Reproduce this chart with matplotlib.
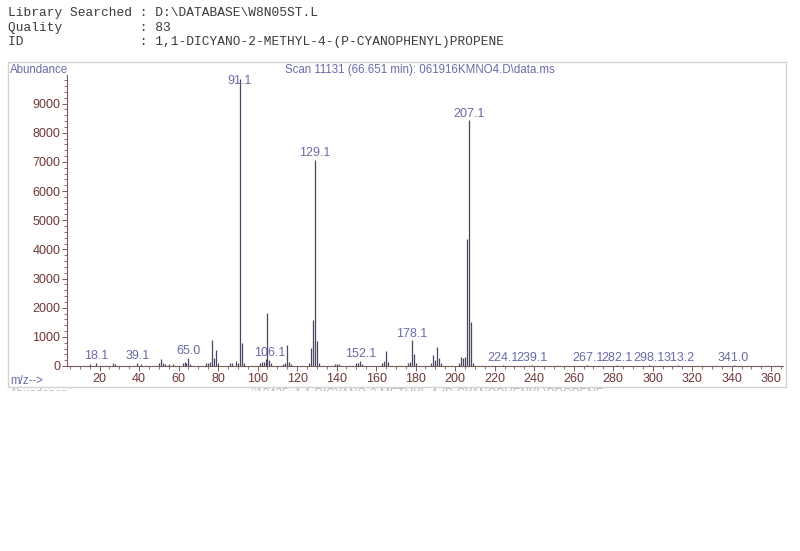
import matplotlib.pyplot as plt
from matplotlib.patches import Rectangle
from matplotlib.ticker import MultipleLocator

# spectrum (m/z, abundance)
mz = [15, 18, 27, 28, 39, 41, 50, 51, 52, 53, 55, 57, 62, 63, 64, 65, 66,
      74, 75, 76, 77, 78, 79, 80, 86, 87, 89, 90, 91, 92, 93,
      101, 102, 103, 104, 105, 106, 107, 113, 114, 115, 116, 117,
      126, 127, 128, 129, 130, 131, 139, 140, 141, 150, 151, 152, 153,
      163, 164, 165, 166, 176, 177, 178, 179, 180, 188, 189, 190, 191, 192, 193,
      202, 203, 204, 205, 206, 207, 208, 209, 224, 239, 267, 282, 298, 313, 341]
abundance = [60, 110, 90, 60, 100, 70, 120, 250, 110, 80, 60, 60, 90, 150, 90, 270, 80,
             90, 110, 150, 890, 270, 550, 110, 90, 120, 160, 100, 9830, 780, 110,
             100, 130, 150, 230, 1810, 210, 90, 80, 120, 710, 150, 70,
             90, 630, 1580, 7080, 860, 120, 60, 80, 60, 90, 120, 170, 80,
             110, 160, 520, 140, 120, 150, 880, 420, 110, 90, 380, 220, 660, 280, 90,
             90, 310, 270, 310, 4350, 8420, 1520, 120, 50, 50, 40, 40, 40, 40, 40]

label_mz = [18.1, 39.1, 65.0, 91.1, 106.1, 129.1, 152.1, 178.1, 207.1,
            224.1, 239.1, 267.1, 282.1, 298.1, 313.2, 341.0]
label_ab = [110, 100, 270, 9830, 210, 7080, 170, 880, 8420,
            50, 50, 40, 40, 40, 40, 40]

header = ["Library Searched : D:\\DATABASE\\W8N05ST.L",
          "Quality          : 83",
          "ID               : 1,1-DICYANO-2-METHYL-4-(P-CYANOPHENYL)PROPENE"]
scan_title = "Scan 11131 (66.651 min): 061916KMNO4.D\\data.ms"

W, H = 800, 551
blue = '#6a6aa8'
brown = '#6e3636'

fig = plt.figure(figsize=(W / 100, H / 100), dpi=100)
fig.patch.set_facecolor('white')

for i, line in enumerate(header):
    fig.text(8 / W, 1 - (13 + 14.5 * i) / H, line, family='Liberation Mono',
             fontsize=9.3, color='#3a3a3a', va='center', ha='left')

# outer frame of the spectrum window
fig.patches.append(Rectangle((8 / W, 1 - 387 / H), 778 / W, 325 / H,
                             transform=fig.transFigure, fill=False,
                             ec='#d4d4cc', lw=1))

ax = fig.add_axes([67 / W, 1 - 366 / H, 716 / W, 291 / H])
ax.vlines(mz, 0, abundance, color='#4a4660', lw=0.9)
ax.set_xlim(3.5, 366)
ax.set_ylim(0, 9980)

for s in ['top', 'right']:
    ax.spines[s].set_visible(False)
for s in ['left', 'bottom']:
    ax.spines[s].set_color('#7a5a5a')
    ax.spines[s].set_linewidth(0.8)

ax.xaxis.set_major_locator(MultipleLocator(20))
ax.xaxis.set_minor_locator(MultipleLocator(5))
ax.yaxis.set_major_locator(MultipleLocator(1000))
ax.yaxis.set_minor_locator(MultipleLocator(200))
ax.tick_params(axis='both', which='major', colors='#7a5a5a', labelcolor=brown,
               labelsize=9, length=3.5, width=0.7, pad=1.2)
ax.tick_params(axis='both', which='minor', colors='#7a5a5a', length=2, width=0.6)
ax.set_xticks(range(20, 361, 20))
ax.tick_params(axis='x', pad=1.5)
for t in ax.get_xticklabels() + ax.get_yticklabels():
    t.set_family('Liberation Sans')

for x, h in zip(label_mz, label_ab):
    ax.annotate(f"{x:.1f}", (x, min(h, 9550)), xytext=(0, 0.5),
                textcoords='offset points', ha='center', va='bottom',
                color=blue, fontsize=9, family='Liberation Sans')

fig.text(10 / W, 1 - 70 / H, "Abundance", color=blue, fontsize=8.3,
         family='Liberation Sans', va='center', ha='left')
fig.text(420 / W, 1 - 70 / H, scan_title, color=blue, fontsize=8.3,
         family='Liberation Sans', va='center', ha='center')
fig.text(10 / W, 1 - 381 / H, "m/z-->", color=blue, fontsize=8.3,
         family='Liberation Sans', va='center', ha='left')

# next panel's caption, cut off by the window edge
fig.text(427 / W, 1 - 388 / H,
         "#10435: 1,1-DICYANO-2-METHYL-4-(P-CYANOPHENYL)PROPENE",
         color='#b4b4c0', fontsize=8.3, family='Liberation Sans',
         va='top', ha='center')
fig.text(10 / W, 1 - 388 / H, "Abundance", color='#b4b4c0', fontsize=8.3,
         family='Liberation Sans', va='top', ha='left')
fig.add_artist(Rectangle((0, 0), 1, 1 - 391 / H, transform=fig.transFigure,
                         fc='white', ec='none', zorder=10))

fig.savefig('out.png', dpi=100, facecolor='white')
